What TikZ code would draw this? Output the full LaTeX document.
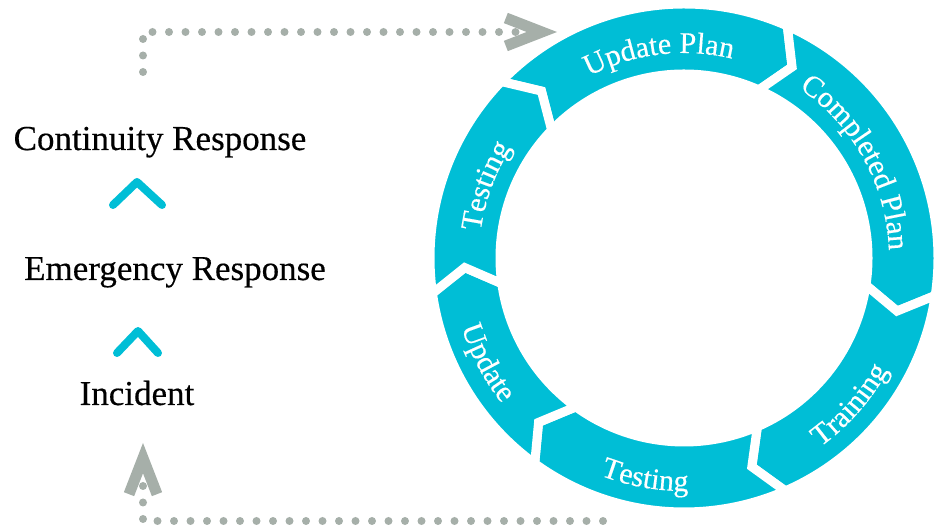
\documentclass[tikz,border=0pt]{standalone}
\usepackage{fontspec}
\setmainfont{Liberation Serif}[FakeBold=0.4]
\usetikzlibrary{arrows.meta,decorations.text}
\definecolor{ringteal}{RGB}{0,190,214}
\definecolor{dotgray}{RGB}{166,175,169}
\newcommand\ringfont{\color{white}\fontsize{30}{36}\selectfont}

\begin{document}
\begin{tikzpicture}[x=1pt,y=1pt,
    lefttext/.style={font=\fontsize{35}{42}\selectfont, anchor=base, inner sep=0pt},
    chev/.style={draw=ringteal, line width=8pt, line cap=round, line join=round},
    dotline/.style={draw=dotgray, line width=8pt, line cap=round, dash pattern=on 0pt off 16.5pt,
        -{Straight Barb[length=36pt,width=28pt,line width=11pt]}},
    seg/.style={fill=ringteal, draw=white, line width=9pt, line join=miter}]
    \useasboundingbox (0,0) rectangle (945,529);

    % Ring
    \begin{scope}[shift={(684,271)}]
        \foreach \a/\b in {136/66, 66/-8.5, -8.5/-66.5, -66.5/-126, -126/-172, 188/136} {
            \path[seg] (\a:254) arc[start angle=\a, end angle=\b, radius=254]
                -- ({\b-5.5}:219.5) -- (\b:184) arc[start angle=\b, end angle=\a, radius=184]
                -- ({\a-5.5}:219.5) -- cycle;
        }
        \foreach \ts/\te/\rr/\lab in {127/67/205/Update Plan, 64/-6/205/Completed Plan,
                -76/-7/233/Training, -134/-66/233/Testing, -186/-118/233/Update, 195/125/205/Testing} {
            \path[decorate, decoration={text along path, text align=center,
                text/.expanded={|\noexpand\ringfont|\lab}}]
                (\ts:\rr) arc[start angle=\ts, end angle=\te, radius=\rr];
        }
    \end{scope}

    % Steps
    \node[lefttext] (cont) at (160,379) {Continuity Response};
    \node[lefttext] (emr) at (175,249) {Emergency Response};
    \node[lefttext] (inc) at (137,124) {Incident};
    \draw[chev] (113,324) -- (137,347) -- (162,324);
    \draw[chev] (117,176) -- (138,198) -- (158,176);

    % Loops
    \coordinate (botstart) at (603,8);
    \coordinate (incin) at (143,86);
    \draw[dotline] (botstart) -| (incin);
    \coordinate (contout) at (143,457);
    \coordinate (planin) at (557,497);
    \draw[dotline] (contout) |- (planin);
\end{tikzpicture}
\end{document}
